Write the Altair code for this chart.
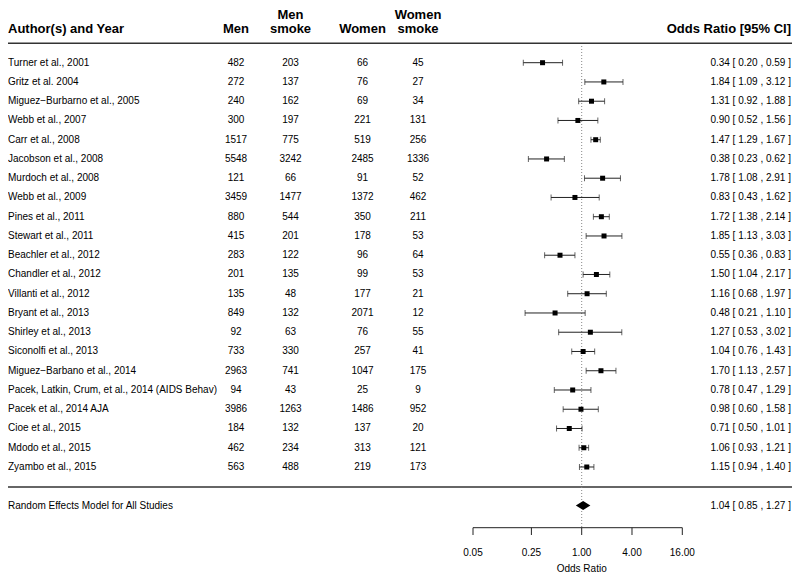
import altair as alt
import pandas as pd
import numpy as np

# ---------------- data ----------------
studies = ["Turner et al., 2001", "Gritz et al. 2004", "Miguez−Burbarno et al., 2005",
           "Webb et al., 2007", "Carr et al., 2008", "Jacobson et al., 2008",
           "Murdoch et al., 2008", "Webb et al., 2009", "Pines et al., 2011",
           "Stewart et al., 2011", "Beachler et al., 2012", "Chandler et al., 2012",
           "Villanti et al., 2012", "Bryant et al., 2013", "Shirley et al., 2013",
           "Siconolfi et al., 2013", "Miguez−Barbano et al., 2014",
           "Pacek, Latkin, Crum, et al., 2014 (AIDS Behav)", "Pacek et al., 2014 AJA",
           "Cioe et al., 2015", "Mdodo et al., 2015", "Zyambo et al., 2015"]
men = [482, 272, 240, 300, 1517, 5548, 121, 3459, 880, 415, 283, 201, 135, 849, 92,
       733, 2963, 94, 3986, 184, 462, 563]
men_smoke = [203, 137, 162, 197, 775, 3242, 66, 1477, 544, 201, 122, 135, 48, 132, 63,
             330, 741, 43, 1263, 132, 234, 488]
women = [66, 76, 69, 221, 519, 2485, 91, 1372, 350, 178, 96, 99, 177, 2071, 76,
         257, 1047, 25, 1486, 137, 313, 219]
women_smoke = [45, 27, 34, 131, 256, 1336, 52, 462, 211, 53, 64, 53, 21, 12, 55,
               41, 175, 9, 952, 20, 121, 173]
odds = [0.34, 1.84, 1.31, 0.90, 1.47, 0.38, 1.78, 0.83, 1.72, 1.85, 0.55, 1.50, 1.16,
        0.48, 1.27, 1.04, 1.70, 0.78, 0.98, 0.71, 1.06, 1.15]
ci_low = [0.20, 1.09, 0.92, 0.52, 1.29, 0.23, 1.08, 0.43, 1.38, 1.13, 0.36, 1.04, 0.68,
          0.21, 0.53, 0.76, 1.13, 0.47, 0.60, 0.50, 0.93, 0.94]
ci_high = [0.59, 3.12, 1.88, 1.56, 1.67, 0.62, 2.91, 1.62, 2.14, 3.03, 0.83, 2.17, 1.97,
           1.10, 3.02, 1.43, 2.57, 1.29, 1.58, 1.01, 1.21, 1.40]

re_label = "Random Effects Model for All Studies"
re_or, re_low, re_high = 1.04, 0.85, 1.27

tick_values = [0.05, 0.25, 1.00, 4.00, 16.00]
x_title = "Odds Ratio"

# ---------------- tables ----------------
n = len(studies)
df = pd.DataFrame({
    "study": studies, "men": men, "men_smoke": men_smoke, "women": women,
    "women_smoke": women_smoke, "or": odds, "lb": ci_low, "ub": ci_high,
})
df["row"] = n - np.arange(n)
df["label"] = [f"{o:.2f} [ {l:.2f} , {h:.2f} ]" for o, l, h in zip(odds, ci_low, ci_high)]

re_row = -1
re_df = pd.DataFrame({"row": [re_row], "study": [re_label],
                      "label": [f"{re_or:.2f} [ {re_low:.2f} , {re_high:.2f} ]"]})
half = 4.5 / 19.25
diamond = pd.DataFrame({"x": [re_low, re_or, re_high],
                        "y1": [re_row, re_row + half, re_row],
                        "y2": [re_row, re_row - half, re_row]})
ticks_df = pd.DataFrame({"t": tick_values})
axis_line = pd.DataFrame({"a": [min(tick_values)], "b": [max(tick_values)]})
ref_df = pd.DataFrame({"x": [1.0]})

# ---------------- scales ----------------
W, H = 784, 565
FONT = "Liberation Sans"
xs = alt.Scale(type="log", domain=[min(tick_values), max(tick_values)], range=[465, 674.3])
ys = alt.Scale(domain=[re_row, n], range=[497.5, 54.7], zero=False, nice=False)
Y = alt.Y("row:Q", scale=ys, axis=None)

base = alt.Chart(df)

study_txt = base.mark_text(align="left", baseline="middle", font=FONT, fontSize=10,
                           color="black").encode(x=alt.value(0), y=Y, text="study:N")

cols = []
for field, px in [("men", 228), ("men_smoke", 282.5), ("women", 354.5), ("women_smoke", 410)]:
    cols.append(base.mark_text(align="center", baseline="middle", font=FONT, fontSize=10,
                               color="black").encode(x=alt.value(px), y=Y, text=f"{field}:N"))

or_txt = base.mark_text(align="right", baseline="middle", font=FONT, fontSize=10,
                        color="black").encode(x=alt.value(783), y=Y, text="label:N")

ci_line = base.mark_rule(color="#222", strokeWidth=1).encode(
    x=alt.X("lb:Q", scale=xs, axis=None), x2="ub:Q", y=Y)
cap_l = base.mark_tick(orient="vertical", size=6, thickness=1, color="#222").encode(
    x=alt.X("lb:Q", scale=xs, axis=None), y=Y)
cap_r = base.mark_tick(orient="vertical", size=6, thickness=1, color="#222").encode(
    x=alt.X("ub:Q", scale=xs, axis=None), y=Y)
sq = base.mark_square(size=25, color="black", opacity=1).encode(
    x=alt.X("or:Q", scale=xs, axis=None), y=Y)

ref = alt.Chart(ref_df).mark_rule(color="#888", strokeDash=[1, 2], strokeWidth=1).encode(
    x=alt.X("x:Q", scale=xs, axis=None), y=alt.value(38), y2=alt.value(519.7))

re_txt = alt.Chart(re_df).mark_text(align="left", baseline="middle", font=FONT, fontSize=10,
                                    color="black").encode(x=alt.value(0), y=Y, text="study:N")
re_or_txt = alt.Chart(re_df).mark_text(align="right", baseline="middle", font=FONT,
                                       fontSize=10, color="black").encode(
    x=alt.value(783), y=Y, text="label:N")
dia = alt.Chart(diamond).mark_area(color="black", opacity=1, orient="vertical").encode(
    x=alt.X("x:Q", scale=xs, axis=None),
    y=alt.Y("y1:Q", scale=ys, axis=None), y2="y2:Q")

top_rule = alt.Chart(ref_df).mark_rule(color="#333", strokeWidth=1.5).encode(
    x=alt.value(0), x2=alt.value(W), y=alt.value(35.3))
mid_rule = alt.Chart(ref_df).mark_rule(color="#333", strokeWidth=1.5).encode(
    x=alt.value(0), x2=alt.value(W), y=alt.value(479))

ax_line = alt.Chart(axis_line).mark_rule(color="#222", strokeWidth=1).encode(
    x=alt.X("a:Q", scale=xs, axis=None), x2="b:Q", y=alt.value(519.7))
ax_ticks = alt.Chart(ticks_df).mark_rule(color="#222", strokeWidth=1).encode(
    x=alt.X("t:Q", scale=xs, axis=None), y=alt.value(519.7), y2=alt.value(527))
ax_labels = alt.Chart(ticks_df).mark_text(baseline="middle", align="center", font=FONT,
                                          fontSize=10, color="black").encode(
    x=alt.X("t:Q", scale=xs, axis=None), y=alt.value(544.7),
    text=alt.Text("t:Q", format=".2f"))
ax_title = alt.Chart(ref_df).mark_text(baseline="middle", align="center", font=FONT,
                                       fontSize=10, color="black").encode(
    x=alt.X("x:Q", scale=xs, axis=None), y=alt.value(561), text=alt.value(x_title))

headers = [
    ("Author(s) and Year", 0, 21, "left"),
    ("Men", 228, 21, "center"),
    ("Men", 282.5, 7, "center"),
    ("smoke", 282.5, 21, "center"),
    ("Women", 354.5, 21, "center"),
    ("Women", 410, 7, "center"),
    ("smoke", 410, 21, "center"),
    ("Odds Ratio [95% CI]", 783, 21, "right"),
]
head_layers = []
for txt, px, py, al in headers:
    head_layers.append(alt.Chart(ref_df).mark_text(
        align=al, baseline="middle", font=FONT, fontSize=13, fontWeight="bold",
        color="black").encode(x=alt.value(px), y=alt.value(py), text=alt.value(txt)))

chart = alt.layer(
    top_rule, mid_rule, ref, ci_line, cap_l, cap_r, sq, study_txt, *cols, or_txt,
    re_txt, re_or_txt, dia, ax_line, ax_ticks, ax_labels, ax_title, *head_layers
).properties(
    width=W, height=H, autosize=alt.AutoSizeParams(type="none"), padding=0,
    background="white"
).configure_view(stroke=None)

chart.save("out.html", embed_options={"renderer": "svg", "actions": False})
